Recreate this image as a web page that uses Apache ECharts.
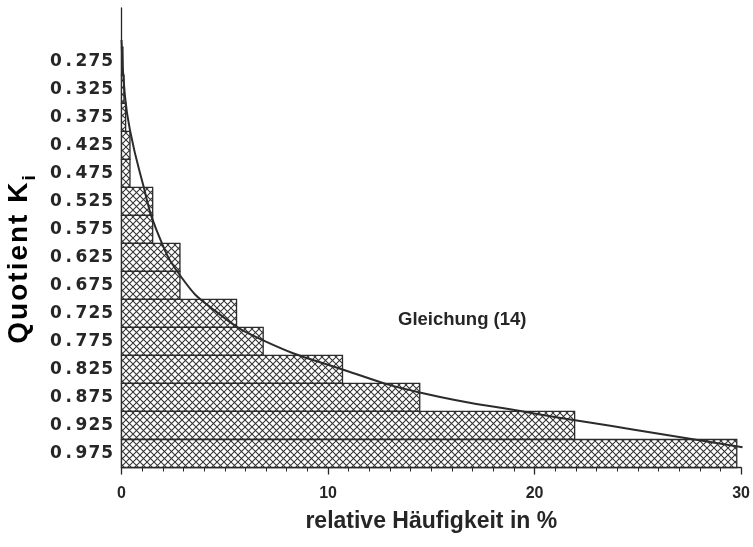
<!DOCTYPE html>
<html>
<head>
<meta charset="utf-8">
<script src="https://cdn.jsdelivr.net/npm/echarts@6/dist/echarts.min.js"></script>
<style>html,body{margin:0;padding:0;background:#fff}#c{width:753px;height:547px}</style>
</head>
<body>
<div id="c"></div>
<script>
// Quotient K_i class centres (bin width 0.05)
var quotients = [0.275, 0.325, 0.375, 0.425, 0.475, 0.525, 0.575, 0.625, 0.675, 0.725, 0.775, 0.825, 0.875, 0.925, 0.975];
// relative frequency in %
var frequencies = [0.07, 0.12, 0.2, 0.41, 0.41, 1.51, 1.51, 2.83, 2.83, 5.57, 6.86, 10.7, 14.44, 21.94, 29.79];
// curve "Gleichung (14)"
var curveFreq = [0, 0.15, 0.41, 1.05, 1.70, 2.91, 4.52, 6.86, 10.70, 14.44, 19.91, 24.75, 30.07];
var curveK    = [0.237, 0.330, 0.398, 0.496, 0.577, 0.661, 0.720, 0.773, 0.825, 0.866, 0.903, 0.932, 0.964];
var xTicks = [0, 10, 20, 30];
var binWidth = 0.05;

var ink = '#262626';
var font = 'Liberation Sans, Arial, sans-serif';

function hatchCanvas() {
  var s = 7;
  var c = document.createElement('canvas');
  c.width = s; c.height = s;
  var g = c.getContext('2d');
  g.fillStyle = '#fff'; g.fillRect(0, 0, s, s);
  g.strokeStyle = '#333'; g.lineWidth = 1.05;
  g.beginPath();
  g.moveTo(-1, -1); g.lineTo(s + 1, s + 1);
  g.moveTo(s + 1, -1); g.lineTo(-1, s + 1);
  g.stroke();
  return c;
}
var hatch = { image: hatchCanvas(), repeat: 'repeat' };

var barData = quotients.map(function (k, i) { return [frequencies[i], k]; });
var curveData = curveFreq.map(function (v, i) { return [v, curveK[i]]; });

function spaced(str, style) {
  return str.split('').map(function (ch) { return '{' + style + '|' + ch + '}'; }).join('');
}

var chart = echarts.init(document.getElementById('c'), null, { renderer: 'canvas' });
chart.setOption({
  animation: false,
  backgroundColor: '#fff',
  grid: { left: 121.5, right: 11.5, top: 8, bottom: 79.5, containLabel: false },
  xAxis: {
    type: 'value', min: xTicks[0], max: xTicks[xTicks.length - 1], interval: 10,
    axisLine: { show: true, onZero: false, lineStyle: { color: ink, width: 1.3 } },
    axisTick: { show: true, length: 7, lineStyle: { color: ink, width: 1.3 } },
    minorTick: { show: true, splitNumber: 10, length: 4, lineStyle: { color: ink, width: 1 } },
    splitLine: { show: false }, minorSplitLine: { show: false },
    axisLabel: { margin: 18, color: ink, fontSize: 16, fontWeight: 'bold', fontFamily: font },
    name: 'relative Häufigkeit in %', nameLocation: 'middle', nameGap: 43,
    nameTextStyle: { color: ink, fontSize: 23, fontWeight: 'bold', fontFamily: font }
  },
  yAxis: {
    type: 'value', inverse: true, min: 0.18, max: 1.0,
    axisLine: { show: true, onZero: false, lineStyle: { color: ink, width: 1.3 } },
    axisTick: { show: false },
    splitLine: { show: false },
    axisLabel: {
      customValues: quotients, margin: 8,
      formatter: function (v) { return spaced(v.toFixed(3), 'c'); },
      rich: { c: { width: 12.8, align: 'center', color: ink, fontSize: 17, fontWeight: 'bold', fontFamily: 'DejaVu Sans, sans-serif' } }
    }
  },
  graphic: [
    {
      type: 'text', x: 19, y: 260, rotation: Math.PI / 2, z: 10,
      style: {
        text: spaced('Quotient K', 'm') + '{s|i}',
        align: 'center', verticalAlign: 'middle',
        rich: {
          m: { fontSize: 28, fontWeight: 'bold', fontFamily: font, color: ink, padding: [0, 1, 0, 1], lineHeight: 32 },
          s: { fontSize: 19, fontWeight: 'bold', fontFamily: font, color: ink, padding: [22, 0, 0, 1], lineHeight: 32 }
        }
      }
    },
    {
      type: 'text', x: 398, y: 320, z: 10,
      style: { text: 'Gleichung (14)', fill: ink, font: 'bold 18.5px Liberation Sans, Arial, sans-serif', verticalAlign: 'middle', align: 'left' }
    }
  ],
  series: [
    {
      type: 'custom', data: barData, encode: { x: 0, y: 1 }, z: 2,
      renderItem: function (params, api) {
        var v = api.value(0), k = api.value(1);
        var p0 = api.coord([0, k - binWidth / 2]);
        var p1 = api.coord([v, k + binWidth / 2]);
        return {
          type: 'rect',
          shape: { x: p0[0], y: Math.min(p0[1], p1[1]), width: p1[0] - p0[0], height: Math.abs(p1[1] - p0[1]) },
          style: { fill: hatch, stroke: '#2b2b2b', lineWidth: 1.3 }
        };
      }
    },
    {
      type: 'line', data: curveData, smooth: 0.5, symbol: 'none', clip: false, z: 5,
      lineStyle: { color: '#2b2b2b', width: 2 }
    }
  ]
});
</script>
</body>
</html>
